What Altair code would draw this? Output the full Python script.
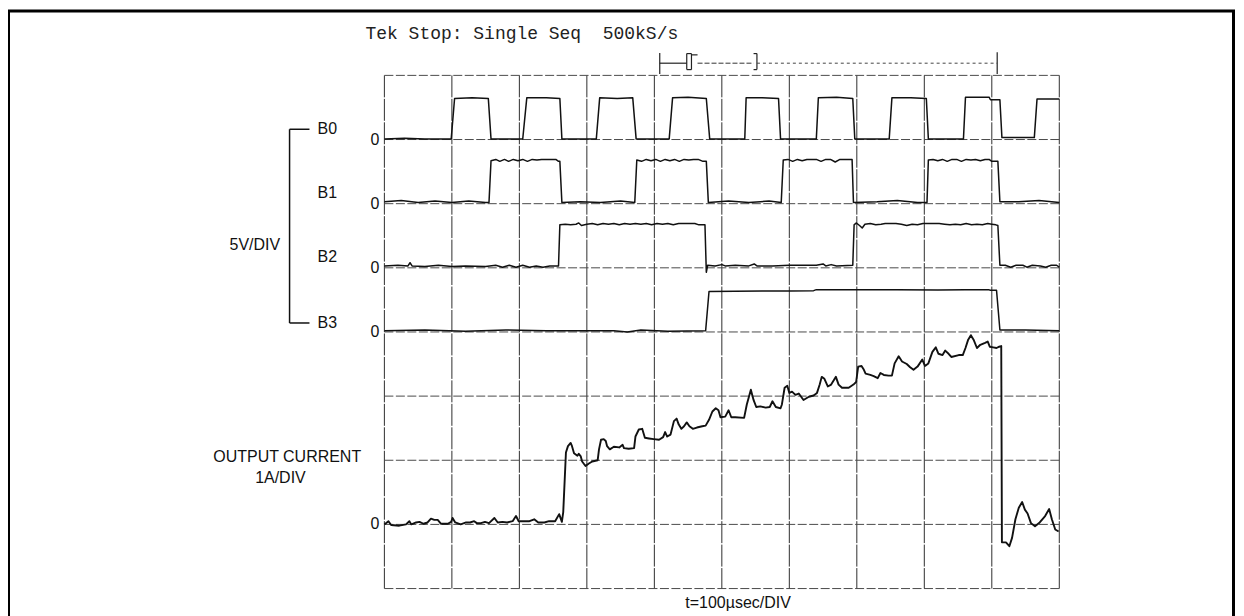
import altair as alt
import pandas as pd

# ---------------- data (time in µs, levels in V / A) ----------------
TIME_DIVS = [0, 100, 200, 300, 400, 500, 600, 700, 800, 900, 1000]
LEVEL_DIVS = [0, 1, 2, 3, 4, 5, 6, 7, 8]
ZERO_DIVS = [7, 6, 5, 4, 1]
ZERO_TEXT = ["0", "0", "0", "0", "0"]

B0 = [(0, 0.05), (30, 0.1), (60, 0.05), (99, 0.05), (104, 3.2), (130, 3.25), (154, 3.2), (158, 0.05),
      (205, 0.05), (211, 3.25), (240, 3.25), (260, 3.2), (263, 0.05), (314, 0.05), (319, 3.25),
      (345, 3.2), (368, 3.25), (373, 0.05), (422, 0.05), (427, 3.25), (450, 3.3), (477, 3.2),
      (482, 0.05), (534, 0.05), (536, 3.25), (560, 3.25), (584, 3.2), (587, 0.05), (640, 0.05),
      (643, 3.25), (670, 3.3), (694, 3.2), (697, 0.05), (748, 0.05), (752, 3.25), (780, 3.25),
      (803, 3.2), (806, 0.05), (858, 0.05), (861, 3.3), (896, 3.3), (898, 3.1), (912, 3.1),
      (915, 0.15), (963, 0.15), (967, 3.15), (1000, 3.15)]

B1 = [(0, 0.15), (25, 0.25), (50, 0.1), (75, 0.2), (100, 0.1), (125, 0.2), (150, 0.1), (155, 0.1),
      (158, 3.35), (165, 3.45), (171, 3.3), (178, 3.45), (184, 3.3), (191, 3.45), (198, 3.35),
      (205, 3.45), (212, 3.3), (219, 3.45), (226, 3.4), (233, 3.45), (240, 3.45), (247, 3.45),
      (254, 3.45), (258, 3.3), (260, 3.3),
      (263, 0.1), (290, 0.15), (320, 0.1), (350, 0.2), (371, 0.1),
      (374, 3.4), (381, 3.3), (388, 3.45), (395, 3.35), (402, 3.45), (409, 3.3), (416, 3.45),
      (423, 3.35), (430, 3.45), (437, 3.3), (444, 3.45), (451, 3.4), (458, 3.45), (465, 3.45),
      (472, 3.3), (477, 3.3),
      (480, 0.1), (510, 0.2), (540, 0.1), (570, 0.2), (588, 0.1),
      (591, 3.4), (598, 3.45), (605, 3.3), (612, 3.45), (619, 3.35), (626, 3.45), (633, 3.45),
      (640, 3.45), (647, 3.3), (654, 3.45), (661, 3.45), (668, 3.25), (675, 3.45), (682, 3.45),
      (689, 3.45), (693, 3.45),
      (695, 0.1), (730, 0.15), (760, 0.25), (790, 0.1), (804, 0.1),
      (806, 3.4), (813, 3.45), (820, 3.35), (827, 3.45), (834, 3.3), (841, 3.45), (848, 3.45),
      (855, 3.3), (862, 3.45), (869, 3.4), (876, 3.45), (883, 3.35), (890, 3.45), (896, 3.45),
      (900, 3.3), (904, 3.3), (909, 3.3),
      (912, 0.15), (940, 0.15), (970, 0.25), (1000, 0.1)]

B2 = [(0, 0.15), (20, 0.2), (35, 0.15), (38, 0.4), (41, 0.15), (60, 0.1), (80, 0.2), (100, 0.1),
      (120, 0.15), (150, 0.1), (165, 0.2), (175, 0.05), (185, 0.2), (195, 0.05), (205, 0.2),
      (215, 0.05), (225, 0.15), (235, 0.05), (245, 0.15), (258, 0.15),
      (260, 3.35), (268, 3.4), (276, 3.35), (284, 3.4), (288, 3.5), (292, 3.3), (300, 3.4),
      (308, 3.45), (316, 3.35), (324, 3.45), (332, 3.4), (340, 3.45), (348, 3.35), (356, 3.45),
      (364, 3.4), (372, 3.45), (380, 3.4), (388, 3.45), (396, 3.35), (404, 3.45), (412, 3.4),
      (420, 3.45), (428, 3.35), (436, 3.45), (444, 3.45), (452, 3.45), (460, 3.45), (466, 3.35),
      (472, 3.35), (475, 3.35),
      (477, -0.35), (479, 0.2), (490, 0.15), (500, 0.25), (505, 0.15), (520, 0.2), (540, 0.15),
      (548, 0.3), (552, 0.15), (575, 0.15), (600, 0.2), (640, 0.2), (650, 0.3), (654, 0.15),
      (662, 0.25), (670, 0.15), (694, 0.2),
      (696, 3.35), (699, 3.5), (704, 3.3), (708, 3.1), (712, 3.4), (720, 3.45), (728, 3.35),
      (736, 3.4), (742, 3.45), (750, 3.45), (758, 3.45), (766, 3.4), (774, 3.3), (782, 3.4),
      (790, 3.35), (798, 3.45), (806, 3.45), (814, 3.45), (822, 3.45), (830, 3.4), (838, 3.35),
      (846, 3.4), (854, 3.35), (862, 3.45), (870, 3.35), (878, 3.4), (886, 3.35), (894, 3.45),
      (900, 3.4), (906, 3.35), (909, 3.3),
      (912, 0.2), (920, 0.2), (928, 0.05), (936, 0.2), (946, 0.2), (952, 0.05), (960, 0.2),
      (972, 0.15), (980, 0.05), (988, 0.2), (996, 0.2), (1000, 0.05)]

B3 = [(0, 0.1), (60, 0.15), (120, 0.05), (180, 0.15), (240, 0.1), (300, 0.1), (340, 0.1),
      (360, 0.0), (380, 0.15), (420, 0.05), (476, 0.1), (481, 3.15), (520, 3.18), (560, 3.2),
      (600, 3.2), (636, 3.22), (640, 3.3), (700, 3.3), (760, 3.3), (820, 3.28), (860, 3.3),
      (895, 3.3), (898, 3.25), (907, 3.25), (912, 0.15), (950, 0.15), (1000, 0.1)]

CURRENT = [(0, 0.0), (6, 0.05), (10, -0.01), (22, -0.02), (32, 0.0), (37, 0.05), (40, 0.0),
           (47, 0.03), (52, 0.04), (58, 0.01), (64, 0.03), (69, 0.09), (74, 0.07), (79, 0.07),
           (84, 0.01), (94, 0.01), (99, 0.04), (101, 0.10), (105, 0.03), (113, 0.0), (121, 0.03),
           (127, 0.03), (133, 0.05), (137, 0.02), (143, 0.02), (149, 0.04), (155, 0.02),
           (163, 0.10), (168, 0.03), (175, 0.04), (182, 0.03), (190, 0.05), (195, 0.13),
           (199, 0.05), (205, 0.05), (215, 0.05), (222, 0.08), (228, 0.03), (237, 0.03),
           (244, 0.05), (253, 0.05), (259, 0.16), (263, 0.04), (265, 0.19),
           (269, 1.12), (272, 1.22), (276, 1.27), (278, 1.22), (281, 1.11), (286, 1.07),
           (288, 1.10), (291, 1.06), (293, 0.98), (298, 0.91), (303, 0.95), (308, 0.98),
           (316, 1.00), (318, 1.17), (321, 1.32), (325, 1.33), (328, 1.30), (330, 1.22),
           (334, 1.17), (340, 1.21), (348, 1.20), (353, 1.24), (355, 1.19), (362, 1.18),
           (370, 1.19), (372, 1.37), (377, 1.48), (382, 1.49), (386, 1.35), (392, 1.34),
           (399, 1.33), (407, 1.32), (413, 1.36), (416, 1.44), (419, 1.37), (424, 1.40),
           (429, 1.61), (433, 1.65), (436, 1.56), (440, 1.49), (444, 1.53), (448, 1.59),
           (452, 1.53), (457, 1.49), (463, 1.51), (471, 1.53), (476, 1.54),
           (481, 1.63), (486, 1.76), (491, 1.81), (495, 1.78), (498, 1.67), (505, 1.68),
           (510, 1.78), (514, 1.67), (520, 1.67), (533, 1.66), (537, 1.87), (543, 2.10),
           (547, 1.94), (551, 1.83), (557, 1.84), (565, 1.82), (571, 1.83), (575, 1.92),
           (580, 1.83), (587, 1.81), (589, 1.87), (593, 2.13), (597, 2.16), (600, 2.05),
           (604, 2.07), (609, 2.02), (614, 2.04), (621, 1.94), (629, 1.99), (636, 2.01),
           (641, 2.05), (645, 2.18), (648, 2.30), (652, 2.27), (657, 2.15), (662, 2.18),
           (669, 2.30), (673, 2.18), (678, 2.13), (688, 2.13), (695, 2.18), (699, 2.22),
           (702, 2.46), (707, 2.47), (710, 2.42), (713, 2.35), (720, 2.33), (725, 2.31),
           (731, 2.28), (735, 2.36), (740, 2.33), (747, 2.32), (752, 2.32),
           (756, 2.51), (762, 2.62), (767, 2.54), (774, 2.50), (779, 2.45), (784, 2.41),
           (790, 2.46), (797, 2.57), (801, 2.47), (806, 2.51), (812, 2.69), (817, 2.76),
           (821, 2.66), (827, 2.64), (831, 2.71), (836, 2.66), (840, 2.61), (851, 2.64),
           (857, 2.64), (861, 2.75), (865, 2.88), (869, 2.95), (873, 2.88), (878, 2.75),
           (883, 2.80), (890, 2.83), (894, 2.85), (897, 2.77), (902, 2.76), (907, 2.75),
           (911, 2.77), (914, 2.78),
           (915, -0.28), (921, -0.28), (926, -0.34), (930, -0.21), (935, 0.08), (940, 0.26),
           (945, 0.35), (949, 0.23), (953, 0.17), (958, 0.02), (964, -0.03), (971, 0.03),
           (979, 0.13), (985, 0.24), (989, 0.08), (994, -0.08), (999, -0.11)]

# channel: (points, zero position in divisions, units per division)
CHANNELS = [("B0", B0, 7, 5.0), ("B1", B1, 6, 5.0), ("B2", B2, 5, 5.0), ("B3", B3, 4, 5.0)]
CURRENT_CH = ("I", CURRENT, 1, 1.0)

CH_LABELS = ["B0", "B1", "B2", "B3"]
CH_LABEL_T = [-99, -99, -99, -99]
CH_LABEL_D = [7.17, 6.16, 5.17, 4.14]

TITLE = "Tek Stop: Single Seq \u00a0500kS/s"
X_TITLE = "t=100µsec/DIV"

# ---------------- tables ----------------
def trace_table(chs):
    rows = []
    for name, pts, off, per in chs:
        for i, (t, v) in enumerate(pts):
            rows.append({"ch": name, "i": i, "t": t, "v": v, "off": off, "per": per})
    return pd.DataFrame(rows)

digital_df = trace_table(CHANNELS)
current_df = trace_table([CURRENT_CH])

xs = alt.Scale(domain=[0, 1000], nice=False, zero=False)
ys = alt.Scale(domain=[0, 8], nice=False, zero=False)

FONT = "Liberation Sans"

def X(f):
    return alt.X(f, type="quantitative", scale=xs, axis=None)

def Y(f):
    return alt.Y(f, type="quantitative", scale=ys, axis=None)

vgrid = alt.Chart(pd.DataFrame({"t": TIME_DIVS})).mark_rule(
    color="#2e2e2e", strokeWidth=1, strokeDash=[22, 1.5]
).encode(x=X("t"))

hgrid = alt.Chart(pd.DataFrame({"d": LEVEL_DIVS})).mark_rule(
    color="#4a4a4a", strokeWidth=1, strokeDash=[9, 2.5]
).encode(y=Y("d"))

digital = alt.Chart(digital_df).transform_calculate(
    yd="datum.off + datum.v / datum.per"
).mark_line(color="#111", strokeWidth=1.5, strokeJoin="round").encode(
    x=X("t"), y=Y("yd"), detail="ch:N", order="i:Q")

current = alt.Chart(current_df).transform_calculate(
    yd="datum.off + datum.v / datum.per"
).mark_line(color="#111", strokeWidth=1.9, strokeJoin="round").encode(
    x=X("t"), y=Y("yd"), detail="ch:N", order="i:Q")

# bracket joining the four logic channels
bracket_df = pd.DataFrame({
    "x": [-140.5, -140.5, -140.5], "x2": [-140.5, -111, -111],
    "y": [7.16, 7.16, 4.14], "y2": [4.14, 7.16, 4.14]})
bracket = alt.Chart(bracket_df).mark_rule(color="#111", strokeWidth=1.5).encode(
    x=X("x"), x2="x2:Q", y=Y("y"), y2="y2:Q")

# record-length marker above the screen
marker_solid_df = pd.DataFrame({
    "x":  [408, 408, 448, 455, 448, 448, 455, 552, 547, 547, 908],
    "x2": [408, 448, 448, 455, 455, 455, 464, 552, 552, 552, 908],
    "y":  [8.02, 8.19, 8.09, 8.09, 8.34, 8.09, 8.32, 8.09, 8.34, 8.09, 8.02],
    "y2": [8.35, 8.19, 8.34, 8.34, 8.34, 8.09, 8.32, 8.34, 8.34, 8.09, 8.36]})
marker_solid = alt.Chart(marker_solid_df).mark_rule(color="#222", strokeWidth=1.2).encode(
    x=X("x"), x2="x2:Q", y=Y("y"), y2="y2:Q")
marker_dash = alt.Chart(pd.DataFrame({"x": [464], "x2": [547], "y": [8.19], "y2": [8.19]})).mark_rule(
    color="#333", strokeWidth=1, strokeDash=[5, 2]).encode(x=X("x"), x2="x2:Q", y=Y("y"), y2="y2:Q")
marker_dot = alt.Chart(pd.DataFrame({"x": [552], "x2": [908], "y": [8.19], "y2": [8.19]})).mark_rule(
    color="#444", strokeWidth=1, strokeDash=[3, 3]).encode(x=X("x"), x2="x2:Q", y=Y("y"), y2="y2:Q")

zero_labels = alt.Chart(pd.DataFrame({"txt": ZERO_TEXT, "d": ZERO_DIVS})).mark_text(
    align="right", baseline="middle", font=FONT, fontSize=16, color="#111", dx=-5
).encode(x=alt.value(0), y=Y("d"), text="txt:N")

ch_labels = alt.Chart(pd.DataFrame({"txt": CH_LABELS, "t": CH_LABEL_T, "d": CH_LABEL_D})).mark_text(
    align="left", baseline="middle", font=FONT, fontSize=16, color="#111"
).encode(x=X("t"), y=Y("d"), text="txt:N")

center_labels = alt.Chart(pd.DataFrame({
    "txt": ["5V/DIV", "OUTPUT CURRENT", "1A/DIV", X_TITLE],
    "t": [-192, -144, -154, 524],
    "d": [5.35, 2.05, 1.73, -0.23]})).mark_text(
    align="center", baseline="middle", font=FONT, fontSize=16, color="#111"
).encode(x=X("t"), y=Y("d"), text="txt:N")

title = alt.Chart(pd.DataFrame({"txt": [TITLE], "t": [-28], "d": [8.56]})).mark_text(
    align="left", baseline="alphabetic", font="Liberation Mono", fontSize=18, color="#222"
).encode(x=X("t"), y=Y("d"), text="txt:N")

frame = alt.Chart(pd.DataFrame({"k": [0]})).mark_rect(
    fill="transparent", stroke="#000", strokeWidth=3
).encode(x=alt.value(-376.5), x2=alt.value(850.5), y=alt.value(-64.5), y2=alt.value(640))

chart = alt.layer(
    vgrid, hgrid, digital, current, bracket, marker_solid, marker_dash, marker_dot,
    zero_labels, ch_labels, center_labels, title, frame
).properties(
    width=676, height=514,
    padding={"left": 377, "top": 67, "right": 177, "bottom": 27},
    autosize=alt.AutoSizeParams(type="none"),
    background="white"
).configure_view(stroke=None)

chart.save("out.html", embed_options={"renderer": "svg", "actions": False})
